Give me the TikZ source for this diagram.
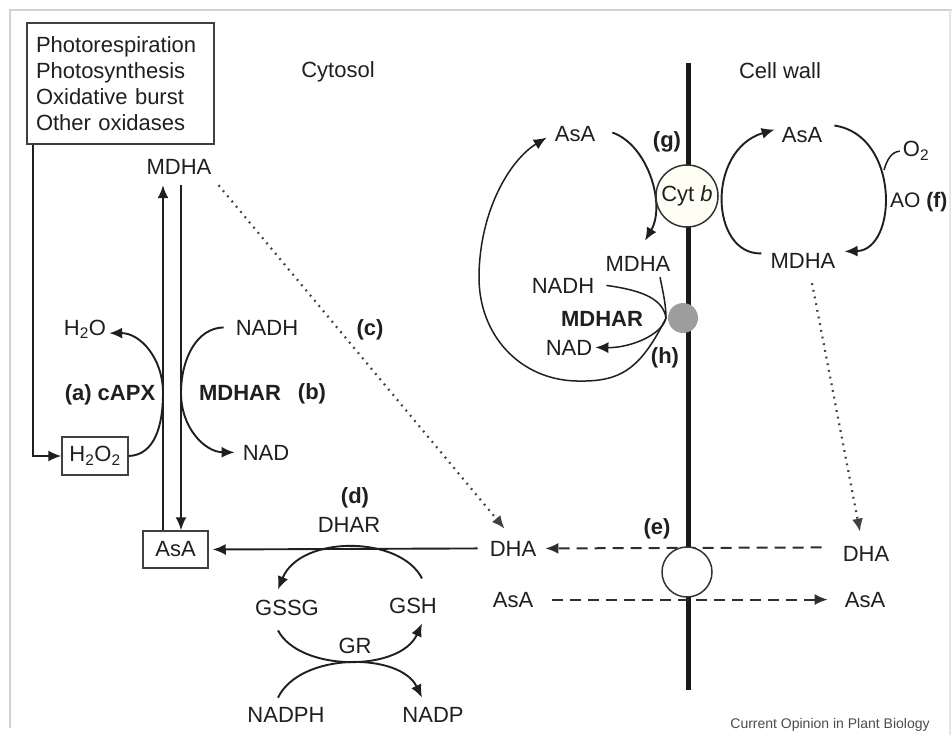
\documentclass[tikz,border=0pt]{standalone}
\usepackage{fontspec}
\setmainfont{Liberation Sans}
\usetikzlibrary{arrows.meta,calc}
\begin{document}
\begin{tikzpicture}[x=1pt,y=-1pt,
  lbl/.style={font=\fontsize{22}{26}\selectfont, inner sep=0pt, text=black!88, anchor=base},
  blbl/.style={lbl, font=\fontsize{22}{26}\selectfont\bfseries},
  ln/.style={line width=1.9pt, draw=black!88},
  arr/.style={ln, -{Latex[length=13pt,width=11pt]}},
  thinln/.style={line width=1.5pt, draw=black!88},
  thinarr/.style={thinln, -{Latex[length=13pt,width=11pt]}},
  dotarr/.style={line width=2.2pt, draw=black!75, dash pattern=on 1.8pt off 5pt, -{Latex[length=13pt,width=11pt]}},
  dasharr/.style={line width=2pt, draw=black!82, dash pattern=on 11pt off 7pt, -{Latex[length=13pt,width=11pt]}},
  membrane/.style={line width=5pt, draw=black!90},
  framebox/.style={draw=black!75, line width=1.5pt}
]
\useasboundingbox (0,0) rectangle (952,735);
\fill[white] (0,0) rectangle (952,735);
% faint frame
\draw[black!18, line width=1.5pt] (10,728) -- (10,10) -- (952,10);
\draw[black!10, line width=1.2pt] (950,10) -- (950,735);

% ---------- Cytosol side ----------
\node[framebox, align=left, minimum width=187pt, minimum height=121pt, text width=169pt, inner xsep=9pt,
      font=\fontsize{22}{26}\selectfont, text=black!88] (src) at (120.5,83.5)
  {Photorespiration\\Photosynthesis\\Oxidative burst\\Other oxidases};
\node[lbl] (cyto) at (338,78) {Cytosol};
\node[lbl] (mdha1) at (179,175) {MDHA};
\node[lbl] (h2o) at (85,335) {H\textsubscript{2}O};
\node[blbl] (capx) at (110,400) {(a) cAPX};
\node[lbl] (nadh1) at (267,335) {NADH};
\node[blbl] (mdhar1) at (240,400) {MDHAR};
\node[blbl] (lb) at (312,399) {(b)};
\node[blbl] (lc) at (370,335) {(c)};
\node[lbl] (nad1) at (266,460) {NAD};
\node[framebox, font=\fontsize{22}{26}\selectfont, text=black!88, minimum width=66pt, minimum height=38pt, inner sep=0pt] (h2o2) at (95,456) {H\textsubscript{2}O\textsubscript{2}};
\node[framebox, font=\fontsize{22}{26}\selectfont, text=black!88, minimum width=65pt, minimum height=37pt, inner sep=0pt] (asa1) at (175.5,549.5) {AsA};
\node[blbl] (ld) at (355,503) {(d)};
\node[lbl] (dhar) at (349,532) {DHAR};
\node[lbl] (gssg) at (287,615) {GSSG};
\node[lbl] (gsh) at (413,613) {GSH};
\node[lbl] (gr) at (355,653) {GR};
\node[lbl] (nadph) at (286,722) {NADPH};
\node[lbl] (nadp) at (433,722) {NADP};

% source arrow
\draw[arr] ($(src.south west)+(7,0)$) |- (h2o2.west);
% vertical arrows
\draw[arr] ($(asa1.north)+(-12.5,0)$) -- ($(mdha1.south)+(-16,10)$);
\draw[arr] ($(mdha1.south)+(2,10)$) -- ($(asa1.north)+(5.5,0)$);
% cAPX
\coordinate (capxT) at (163,393);
\draw[arr] (h2o2.east) .. controls (155,455) and (163,425) .. (capxT) .. controls (163,358) and (140,333) .. ($(h2o.east)+(3,4)$);
% MDHAR (b)
\coordinate (mdharT) at (181,393);
\draw[arr] ($(nadh1.west)+(-12,0)$) .. controls (196,328) and (181,360) .. (mdharT) .. controls (181,428) and (205,452) .. ($(nad1.west)+(-8,0)$);

% ---------- membrane side ----------
\coordinate (memTop) at (688,63);
\coordinate (memBot) at (688,690);
\draw[membrane] (memTop) -- (memBot);
\node[lbl] (cellwall) at (780,79) {Cell wall};

\node[lbl] (dha1) at (513,556) {DHA};
\node[lbl] (asa3) at (513,607) {AsA};
\node[lbl] (dha2) at (866,561) {DHA};
\node[lbl] (asa4) at (865,607) {AsA};
\node[blbl] (le) at (657,534) {(e)};

% dotted (c)
\draw[dotarr] ($(mdha1.south east)+(7,10)$) -- ($(dha1.north west)+(15,-12)$);
% DHAR
\draw[arr] ($(dha1.west)+(-12,0)$) -- ($(asa1.east)+(4,0)$);
\draw[arr] ($(gsh.north)+(9,-19)$) .. controls (400,535) and (300,535) .. ($(gssg.north)+(-9,-10)$);
\draw[arr] ($(gssg.south)+(-9,15)$) .. controls (300,672) and (400,672) .. ($(gsh.south)+(9,10)$);
\draw[arr] ($(nadph.north)+(-8,-9)$) .. controls (300,652) and (400,652) .. ($(nadp.north)+(-11,-9)$);

% upper right labels
\node[lbl] (asa2) at (575,142) {AsA};
\node[blbl] (lg) at (667,148) {(g)};
\node[lbl] (asaR) at (802,143) {AsA};
\node[lbl] (o2) at (916,157) {O\textsubscript{2}};
\node[lbl, anchor=base west, font=\fontsize{21}{25}\selectfont] (ao) at (890,208) {AO \textbf{(f)}};
\node[lbl] (mdha2) at (638,271) {MDHA};
\node[lbl] (mdha3) at (803,269) {MDHA};
\node[lbl] (nadh2) at (563,293) {NADH};
\node[blbl] (mdhar2) at (602,326) {MDHAR};
\node[lbl] (nad2) at (569,355) {NAD};
\node[blbl] (lh) at (665,363) {(h)};

% Cyt b arcs
\draw[arr] ($(asa2.east)+(17,-2)$) .. controls (648,145) and (666,205) .. ($(mdha2.north)+(7,-15)$);
\draw[arr] ($(mdha3.west)+(-9,-8)$) .. controls (710,255) and (706,150) .. ($(asaR.west)+(-7,-6)$);
% AO
\draw[arr] ($(asaR.east)+(12,-10)$) .. controls (900,135) and (898,250) .. ($(mdha3.east)+(9,-10)$);
\coordinate (o2start) at (884,170);
\draw[thinln] (o2start) .. controls (887,160) and (891,152) .. ($(o2.west)+(-3,0)$);
% dotted right
\draw[dotarr] ($(mdha3.south)+(9,14)$) -- ($(dha2.north)+(-6,-14)$);

% MDHAR (h)
\coordinate (hP) at (666,318);
\draw[thinln] ($(mdha2.south)+(22,6)$) .. controls (663,292) and (666,305) .. (hP);
\draw[thinln] ($(nadh2.east)+(12,0)$) .. controls (640,290) and (663,298) .. (hP);
\draw[thinarr] (hP) .. controls (662,335) and (630,348) .. ($(nad2.east)+(3,0)$);
\draw[thinarr] (hP) .. controls (640,370) and (620,382) .. (577,381) .. controls (520,380) and (478,335) .. (479,275) .. controls (480,210) and (510,160) .. ($(asa2.west)+(-8,3)$);

% transport (e)
\draw[dasharr] ($(dha2.west)+(-21,-6)$) -- ($(dha1.east)+(9,0)$);
\draw[dasharr] ($(asa3.east)+(19,0)$) -- ($(asa4.west)+(-17,0)$);

% circles
\node[circle, draw=black!80, line width=1.5pt, fill=yellow!4, minimum size=62pt, inner sep=0pt,
      font=\fontsize{22}{26}\selectfont, text=black!88] (cytb) at (687,196) {Cyt \textit{b}};
\node[circle, fill=black!38, minimum size=30pt, inner sep=0pt] (gcirc) at (683,318) {};
\node[circle, draw=black!80, line width=1.5pt, fill=white, minimum size=50pt, inner sep=0pt] (trans) at (687,572) {};

\node[inner sep=0pt, anchor=base, font=\fontsize{14}{16}\selectfont, text=black!70] (credit) at (830,728) {Current Opinion in Plant Biology};
\end{tikzpicture}
\end{document}
